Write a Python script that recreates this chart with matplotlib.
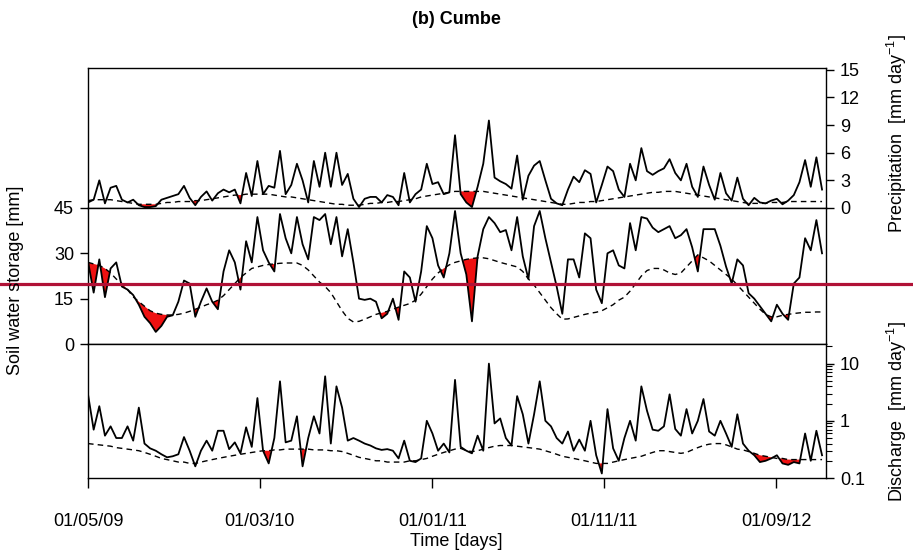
import pandas as pd
import matplotlib
matplotlib.use('Agg')
import matplotlib.pyplot as plt
import matplotlib.dates as mdates
from matplotlib.lines import Line2D
from matplotlib.ticker import FuncFormatter, LogLocator, NullFormatter

plt.rcParams['font.family'] = ['Liberation Sans', 'DejaVu Sans']
plt.rcParams['mathtext.default'] = 'regular'

# series sampled every 10 days from 01/05/2009
dates = pd.date_range('2009-05-01', periods=131, freq='10D')

precip = [0.6, 0.9, 3.0, 0.5, 2.2, 2.4, 0.9, 0.6, 0.9, 0.3,
          0.1, 0.1, 0.2, 0.9, 1.1, 1.3, 1.5, 2.4, 1.1, 0.3,
          1.2, 1.8, 0.8, 1.6, 2.0, 1.7, 2.0, 0.5, 3.8, 1.3,
          5.1, 1.5, 2.4, 2.2, 6.2, 1.5, 2.5, 4.8, 3.0, 0.6,
          5.1, 2.3, 6.0, 2.3, 6.0, 2.5, 3.7, 1.0, 0.1, 1.0,
          1.2, 1.2, 0.6, 1.4, 1.2, 0.3, 3.8, 0.6, 1.5, 2.0,
          4.8, 2.6, 2.8, 1.5, 1.7, 7.9, 1.5, 0.6, 0.1, 2.3,
          4.8, 9.5, 3.3, 2.9, 2.6, 2.1, 5.7, 0.9, 3.5, 4.6,
          5.1, 3.0, 1.0, 0.5, 0.3, 2.0, 3.4, 2.8, 4.1, 3.7,
          0.6, 2.5, 4.5, 4.0, 2.0, 1.2, 4.8, 3.0, 6.5, 4.0,
          3.6, 4.0, 4.3, 5.3, 3.8, 3.0, 4.8, 2.3, 1.2, 4.5,
          2.5, 0.9, 3.8, 1.6, 0.8, 3.3, 1.0, 0.3, 1.1, 0.6,
          0.5, 0.8, 1.0, 0.4, 0.8, 1.4, 2.8, 5.2, 2.3, 5.5, 2.0]
precip_ref = [0.8, 0.9, 0.9, 0.9, 0.9, 0.8, 0.7, 0.6, 0.5, 0.4,
              0.4, 0.4, 0.4, 0.5, 0.6, 0.6, 0.7, 0.7, 0.7, 0.8,
              0.8, 0.9, 1.0, 1.1, 1.2, 1.3, 1.4, 1.4, 1.5, 1.5,
              1.5, 1.5, 1.5, 1.4, 1.3, 1.2, 1.2, 1.1, 1.0, 0.9,
              0.8, 0.7, 0.6, 0.5, 0.4, 0.4, 0.3, 0.3, 0.3, 0.4,
              0.5, 0.5, 0.6, 0.6, 0.7, 0.7, 0.8, 0.9, 1.0, 1.2,
              1.3, 1.4, 1.5, 1.6, 1.7, 1.8, 1.8, 1.8, 1.8, 1.8,
              1.8, 1.7, 1.6, 1.5, 1.4, 1.3, 1.2, 1.1, 1.0, 0.9,
              0.8, 0.7, 0.6, 0.5, 0.4, 0.4, 0.5, 0.6, 0.6, 0.7,
              0.7, 0.8, 0.9, 1.0, 1.1, 1.2, 1.3, 1.4, 1.5, 1.6,
              1.7, 1.7, 1.8, 1.8, 1.8, 1.7, 1.6, 1.5, 1.4, 1.3,
              1.2, 1.1, 1.0, 0.9, 0.8, 0.7, 0.6, 0.5, 0.5, 0.5,
              0.5, 0.6, 0.6, 0.6, 0.7, 0.7, 0.7, 0.7, 0.7, 0.7, 0.7]

storage = [27.3, 17, 28, 15.5, 25, 27, 19, 18, 16.2, 13,
           9, 6.9, 4, 6, 9, 9.5, 14, 21, 20, 9,
           14, 18.4, 14, 11.5, 24, 31, 27, 18, 34, 27,
           42, 31, 27, 24, 43, 35, 30, 42, 33, 28,
           42, 41, 43, 33, 42, 29, 38, 27, 15, 14.6,
           15, 14, 8.5, 10, 15, 8, 24, 22, 14, 24,
           39, 35, 26, 22, 30, 44, 30, 23, 7.5, 29,
           38, 42, 40, 37, 37.7, 31, 42, 29, 21.5, 39,
           44, 35, 27, 19, 10, 28, 28, 22, 36.6, 35,
           18, 13.5, 30, 31, 26, 25, 40, 31, 42, 41.5,
           38.5, 37, 38, 39, 35, 36, 38, 32, 24, 38,
           38, 38, 32.5, 25.6, 20, 28, 26, 16.8, 15, 12.5,
           10, 7.5, 13, 10, 8, 20, 22, 35, 31, 41, 30]
storage_ref = [27, 26.5, 26, 25, 23.5, 21.5, 20, 18, 15.6, 14,
               12.5, 11, 10.2, 9.8, 9.6, 9.6, 9.8, 10.2, 10.8, 11.5,
               12.2, 13, 13.6, 14.5, 16, 18, 20, 22, 23.5, 25,
               25.5, 26, 26.3, 26.5, 26.7, 26.8, 26.8, 26.8, 26, 24.5,
               22.5, 20.5, 19, 17, 14, 11, 8.5, 7.3, 7.5, 8.2,
               9, 9.8, 10.3, 10.8, 11.5, 12.2, 12.8, 13.4, 14.5, 16.5,
               19, 21.5, 23.5, 25, 26.2, 27, 27.5, 28, 28.3, 28.5,
               28.5, 28.2, 27.6, 27, 26.5, 26, 25.5, 24, 21.5, 19.5,
               17, 14.5, 12, 10, 8.2, 8.3, 8.8, 9.3, 9.8, 10.2,
               10.5, 11, 12, 13, 14.5, 15.5, 17.5, 20, 22.5, 24.3,
               25, 25, 24.5, 23.5, 23, 23.5, 25.5, 27.5, 29.5, 28.5,
               27.5, 26, 24.5, 23, 21.5, 19.5, 17.5, 15.5, 13.5, 11.5,
               9.8, 9, 9, 9.5, 9.8, 10.1, 10.3, 10.5, 10.5, 10.6, 10.6]

discharge = [2.9, 0.7, 1.8, 0.55, 0.8, 0.5, 0.5, 0.8, 0.45, 1.7,
             0.4, 0.33, 0.3, 0.26, 0.23, 0.24, 0.26, 0.52, 0.3, 0.16,
             0.3, 0.45, 0.3, 0.67, 0.67, 0.32, 0.42, 0.27, 0.77, 0.35,
             2.5, 0.3, 0.18, 0.5, 4.9, 0.42, 0.45, 1.2, 0.16, 0.5,
             1.2, 0.6, 6.0, 0.4, 4.0, 1.7, 0.45, 0.5, 0.45, 0.4,
             0.37, 0.33, 0.31, 0.32, 0.3, 0.22, 0.45, 0.2, 0.19, 0.22,
             1.0, 0.6, 0.3, 0.4, 0.28, 5.2, 0.35, 0.3, 0.27, 0.55,
             0.3, 10.0, 0.9, 1.1, 0.5, 0.37, 2.7, 1.3, 0.4, 1.3,
             4.9, 1.0, 0.8, 0.5, 0.4, 0.65, 0.3, 0.47, 0.3, 1.0,
             0.25, 0.12, 1.6, 0.33, 0.2, 0.5, 1.0, 0.45, 4.0, 1.5,
             0.7, 0.67, 0.8, 2.9, 0.72, 0.55, 1.6, 0.6, 1.0, 2.4,
             0.65, 0.55, 1.0, 0.6, 0.35, 1.3, 0.4, 0.3, 0.25, 0.19,
             0.2, 0.22, 0.25, 0.18, 0.17, 0.19, 0.18, 0.6, 0.2, 0.67, 0.25]
discharge_ref = [0.40, 0.39, 0.38, 0.37, 0.36, 0.34, 0.33, 0.32, 0.31, 0.30,
                 0.28, 0.26, 0.24, 0.22, 0.21, 0.20, 0.19, 0.19, 0.18, 0.18,
                 0.19, 0.20, 0.21, 0.22, 0.23, 0.24, 0.25, 0.26, 0.27, 0.28,
                 0.29, 0.30, 0.30, 0.31, 0.31, 0.32, 0.32, 0.32, 0.32, 0.32,
                 0.31, 0.31, 0.31, 0.30, 0.30, 0.29, 0.27, 0.25, 0.23, 0.22,
                 0.21, 0.20, 0.20, 0.19, 0.19, 0.19, 0.19, 0.20, 0.20, 0.21,
                 0.22, 0.24, 0.26, 0.28, 0.30, 0.32, 0.33, 0.30, 0.29, 0.30,
                 0.32, 0.34, 0.36, 0.37, 0.37, 0.37, 0.36, 0.35, 0.34, 0.33,
                 0.32, 0.30, 0.28, 0.26, 0.24, 0.23, 0.22, 0.21, 0.20, 0.19,
                 0.18, 0.18, 0.18, 0.19, 0.20, 0.21, 0.22, 0.23, 0.24, 0.26,
                 0.28, 0.30, 0.30, 0.29, 0.28, 0.27, 0.28, 0.31, 0.34, 0.37,
                 0.39, 0.40, 0.40, 0.38, 0.35, 0.32, 0.31, 0.29, 0.27, 0.25,
                 0.24, 0.23, 0.22, 0.22, 0.21, 0.21, 0.21, 0.21, 0.21, 0.21, 0.21]

tick_dates = pd.to_datetime(['2009-05-01', '2010-03-01', '2011-01-01',
                             '2011-11-01', '2012-09-01'])

fig = plt.figure(figsize=(9.13, 5.6), dpi=100)
ax1 = fig.add_axes([0.0964, 0.6286, 0.8083, 0.2500])
ax2 = fig.add_axes([0.0964, 0.3857, 0.8083, 0.2429], sharex=ax1)
ax3 = fig.add_axes([0.0964, 0.1464, 0.8083, 0.2393], sharex=ax1)

panels = [(ax1, precip, precip_ref), (ax2, storage, storage_ref),
          (ax3, discharge, discharge_ref)]
for ax, obs, ref in panels:
    below = [o < r for o, r in zip(obs, ref)]
    ax.fill_between(dates, obs, ref, where=below, interpolate=True,
                    color='#ee1111', lw=0, zorder=1)
    ax.plot(dates, ref, color='black', lw=1.0, dashes=(4, 3), zorder=2)
    ax.plot(dates, obs, color='black', lw=1.3, zorder=3)
    for s in ax.spines.values():
        s.set_linewidth(1.0)
    ax.tick_params(direction='out', length=6, width=1.0, labelsize=13, pad=4)
    ax.tick_params(axis='x', bottom=False, labelbottom=False)

# precipitation (right axis)
ax1.set_ylim(0, 15.2)
ax1.set_yticks([0, 3, 6, 9, 12, 15])
ax1.yaxis.tick_right()

# soil water storage (left axis)
ax2.set_ylim(0, 45)
ax2.set_yticks([0, 15, 30, 45])

# discharge (right log axis)
ax3.set_yscale('log')
ax3.set_ylim(0.1, 22)
ax3.yaxis.tick_right()
ax3.yaxis.set_major_locator(LogLocator(base=10, numticks=5))
ax3.yaxis.set_major_formatter(FuncFormatter(lambda v, p: f'{v:g}'))
ax3.yaxis.set_minor_locator(LogLocator(base=10, subs=range(2, 10), numticks=20))
ax3.yaxis.set_minor_formatter(NullFormatter())
ax3.tick_params(axis='y', which='minor', length=4, width=0.8, right=True, left=False)

ax3.set_xlim(pd.Timestamp('2009-05-01'), pd.Timestamp('2012-11-28'))
ax3.set_xticks(tick_dates)
ax3.xaxis.set_major_formatter(mdates.DateFormatter('%d/%m/%y'))
ax3.tick_params(axis='x', bottom=True, labelbottom=True, length=7, pad=18)

fig.text(0.5, 1 - 20 / 560, '(b) Cumbe', ha='center', va='center',
         fontsize=13, fontweight='bold')
fig.text(0.5, 1 - 542 / 560, 'Time [days]', ha='center', va='center', fontsize=13)
fig.text(16 / 913, 1 - 280 / 560, 'Soil water storage [mm]', rotation=90,
         ha='center', va='center', fontsize=13)
fig.text(897 / 913, 1 - 134 / 560, 'Precipitation  [mm day$^{-1}$]', rotation=90,
         ha='center', va='center', fontsize=13)
fig.text(897 / 913, 1 - 412 / 560, 'Discharge  [mm day$^{-1}$]', rotation=90,
         ha='center', va='center', fontsize=13)

# horizontal marker line across the figure
fig.add_artist(Line2D([0, 1], [1 - 284 / 560, 1 - 284 / 560],
                      transform=fig.transFigure, color='#b01136', lw=2.3))

fig.savefig('out.png', dpi=100)
